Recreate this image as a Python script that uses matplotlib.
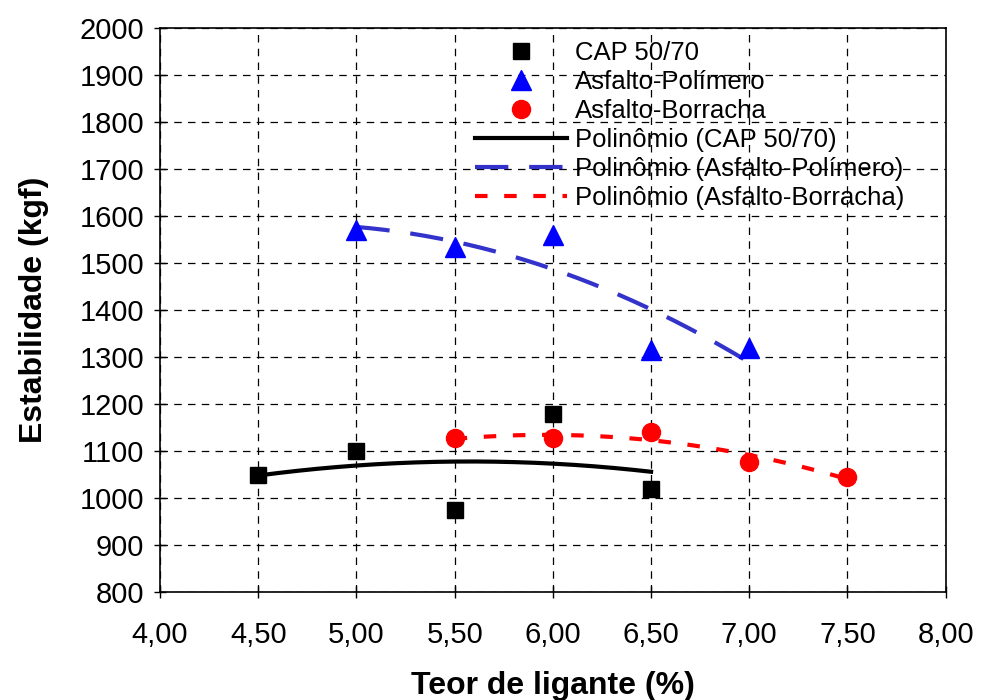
import matplotlib.pyplot as plt
import numpy as np

plt.rcParams['font.family'] = ['Liberation Sans', 'DejaVu Sans']

# teor de ligante (%) e estabilidade (kgf)
teor_cap = [4.5, 5.0, 5.5, 6.0, 6.5]
estab_cap = [1050, 1100, 975, 1180, 1020]

teor_pol = [5.0, 5.5, 6.0, 6.5, 7.0]
estab_pol = [1570, 1535, 1560, 1315, 1320]

teor_bor = [5.5, 6.0, 6.5, 7.0, 7.5]
estab_bor = [1127, 1127, 1140, 1077, 1045]

x_ticks = [4.0, 4.5, 5.0, 5.5, 6.0, 6.5, 7.0, 7.5, 8.0]
y_ticks = list(range(800, 2001, 100))


def trend(x, y, deg=2):
    """Polynomial trendline sampled over the data range"""
    coef = np.polyfit(x, y, deg)
    xs = np.linspace(min(x), max(x), 200)
    return xs, np.polyval(coef, xs)


fig = plt.figure(figsize=(9.82, 7.0), dpi=100)
ax = fig.add_axes([0.163, 0.154, 0.800, 0.806])

ax.plot(teor_cap, estab_cap, 's', color='black', ms=12, ls='none', label='CAP 50/70', zorder=3)
ax.plot(teor_pol, estab_pol, '^', color='#0000ff', ms=14, ls='none', label='Asfalto-Polímero', zorder=3)
ax.plot(teor_bor, estab_bor, 'o', color='#ff0000', ms=13, ls='none', label='Asfalto-Borracha', zorder=3)

xs, ys = trend(teor_cap, estab_cap)
ax.plot(xs, ys, '-', color='black', lw=3, label='Polinômio (CAP 50/70)')
xs, ys = trend(teor_pol, estab_pol)
ax.plot(xs, ys, color='#3333cc', lw=3, dashes=(8, 5), label='Polinômio (Asfalto-Polímero)')
xs, ys = trend(teor_bor, estab_bor)
ax.plot(xs, ys, color='#ff0000', lw=3, dashes=(3, 4), label='Polinômio (Asfalto-Borracha)')

ax.set_xlim(4, 8)
ax.set_ylim(800, 2000)
ax.set_xticks(x_ticks)
ax.set_xticklabels([f"{v:.2f}".replace('.', ',') for v in x_ticks])
ax.set_yticks(y_ticks)
ax.tick_params(direction='inout', length=9, width=1, labelsize=21, pad=7)
ax.tick_params(axis='x', pad=16)
ax.grid(True, color='black', ls=(0, (6, 5)), lw=0.9)
for sp in ax.spines.values():
    sp.set_linewidth(1.2)

ax.set_xlabel('Teor de ligante (%)', fontsize=23, fontweight='bold', labelpad=16)
ax.set_ylabel('Estabilidade (kgf)', fontsize=23, fontweight='bold', labelpad=22)

ax.legend(loc='upper right', bbox_to_anchor=(0.967, 1.005), frameon=False, fontsize=18.5,
          handlelength=3.6, handletextpad=0.3, labelspacing=0.2, borderaxespad=0.2)

fig.savefig('out.png', dpi=100)
